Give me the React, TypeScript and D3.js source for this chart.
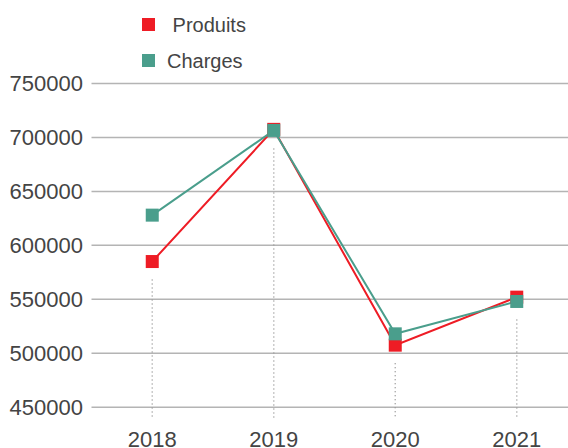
import React from 'react';
import * as d3 from 'd3';

const years = ['2018', '2019', '2020', '2021'];
const produits = [585000, 707500, 507500, 552000];
const charges = [628000, 706500, 518000, 548000];
const yTicks = [450000, 500000, 550000, 600000, 650000, 700000, 750000];

const series = [
  { name: ' Produits', values: produits, color: '#ee1c25' },
  { name: 'Charges', values: charges, color: '#4a9e8c' },
];

const width = 568;
const height = 448;
const font = '"Liberation Sans", Arial, Helvetica, sans-serif';

const App = () => {
  const x = d3.scaleBand<string>().domain(years).range([91.5, 577.5]);
  const cx = (d: string) => (x(d) as number) + x.bandwidth() / 2;
  const y = d3.scaleLinear().domain([440000, 750000]).range([418, 83.5]);

  const line = d3
    .line<number>()
    .x((_, i) => cx(years[i]))
    .y(d => y(d));

  const m = 13; // marker size

  return (
    <svg
      width={width}
      height={height}
      style={{ position: 'absolute', left: 0, top: 0 }}
      fontFamily={font}
    >
      {/* gridlines + y labels */}
      {yTicks.map(t => (
        <g key={t}>
          <line x1={91.5} x2={width} y1={y(t)} y2={y(t)} stroke="#b4b4b4" strokeWidth={1.5} />
          <text x={83} y={y(t)} dy="0.36em" textAnchor="end" fontSize={22} fill="#444">
            {t}
          </text>
        </g>
      ))}

      {/* dotted drop lines */}
      {years.map((yr, i) => {
        const low = Math.min(produits[i], charges[i]);
        return (
          <line
            key={yr}
            x1={cx(yr)}
            x2={cx(yr)}
            y1={y(low) + 18}
            y2={y.range()[0]}
            stroke="#999"
            strokeWidth={1.5}
            strokeDasharray="1 3"
          />
        );
      })}

      {/* x labels */}
      {years.map(yr => (
        <text key={yr} x={cx(yr)} y={447} textAnchor="middle" fontSize={22} fill="#444">
          {yr}
        </text>
      ))}

      {/* lines */}
      {series.map(s => (
        <path key={s.name} d={line(s.values) || ''} fill="none" stroke={s.color} strokeWidth={2} />
      ))}

      {/* markers */}
      {series.map(s => (
        <g key={s.name}>
          {s.values.map((v, i) => (
            <rect
              key={i}
              x={cx(years[i]) - m / 2}
              y={y(v) - m / 2}
              width={m}
              height={m}
              fill={s.color}
            />
          ))}
        </g>
      ))}

      {/* legend */}
      {series.map((s, i) => (
        <g key={s.name} transform={`translate(142,${24.5 + i * 36})`}>
          <rect x={0} y={-m / 2} width={m} height={m} fill={s.color} />
          <text
            x={25}
            y={0}
            dy="0.36em"
            fontSize={20}
            fill="#444"
            style={{ whiteSpace: 'pre' }}
          >
            {s.name}
          </text>
        </g>
      ))}
    </svg>
  );
};

export default App;
